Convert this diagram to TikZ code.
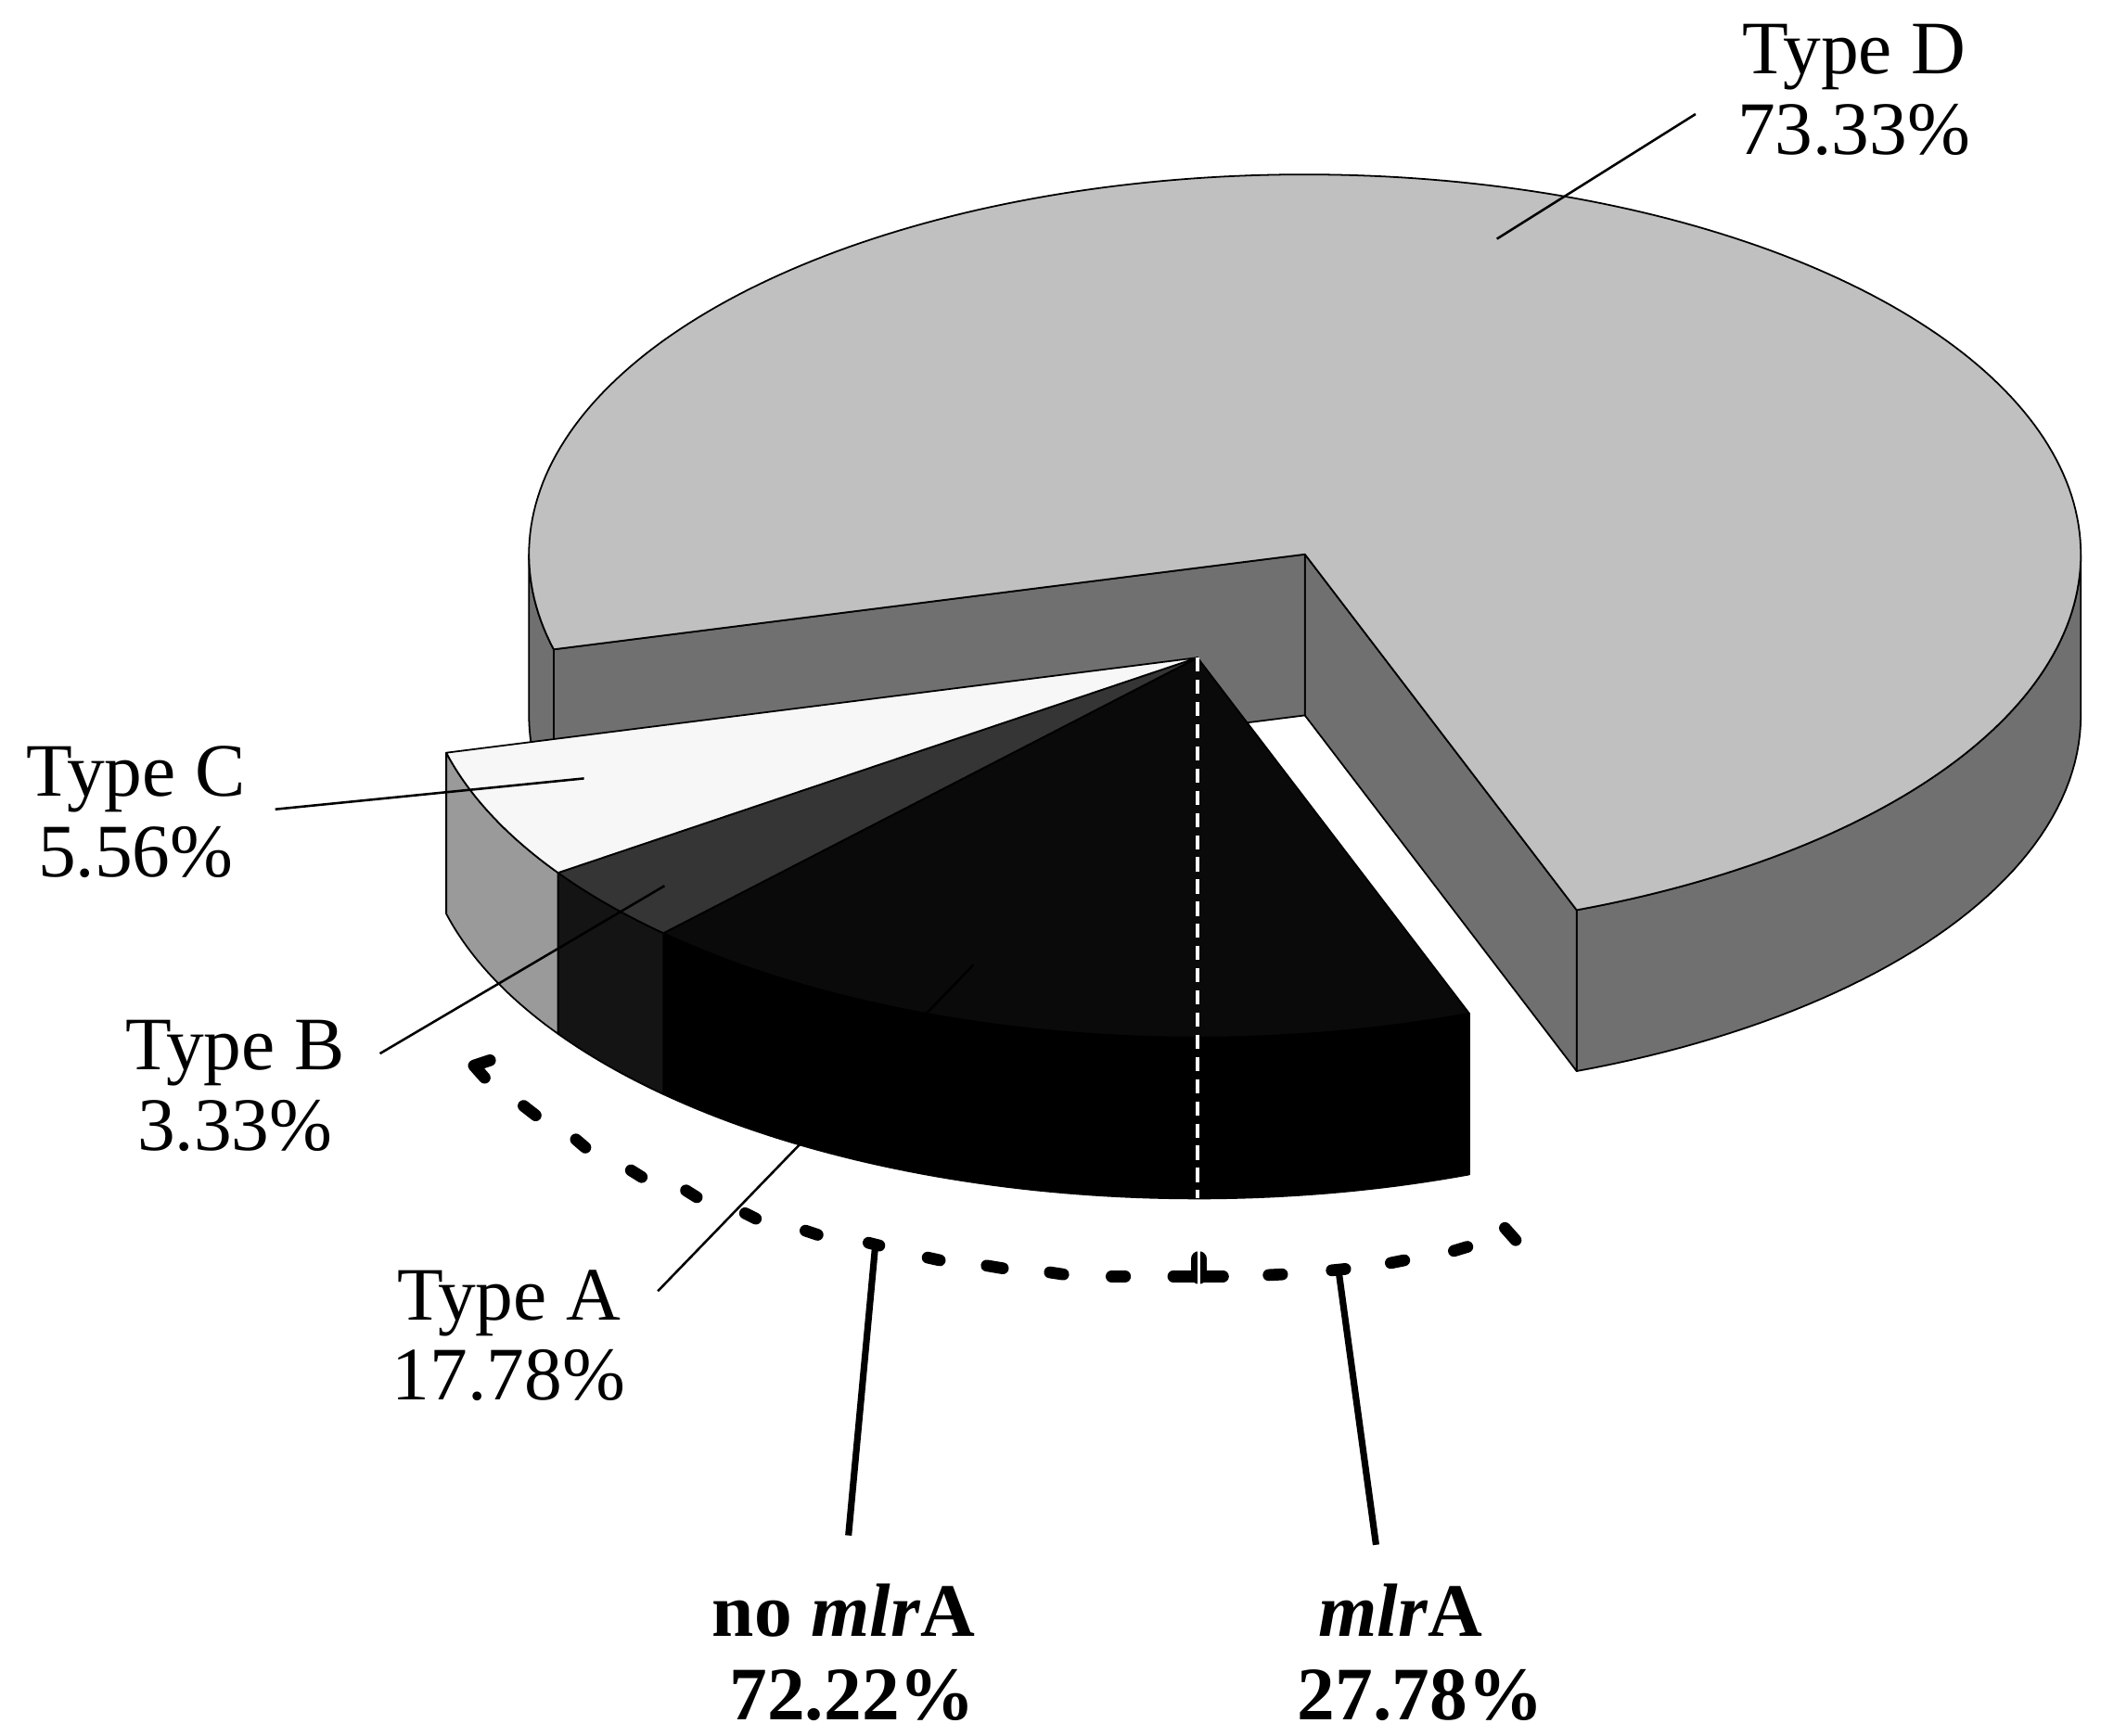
\documentclass[tikz,border=0pt]{standalone}
\usepackage{fontspec}
\setmainfont{Liberation Serif}
\definecolor{topD}{HTML}{C0C0C0}
\definecolor{sideD}{HTML}{707070}
\definecolor{topC}{HTML}{F7F7F7}
\definecolor{sideC}{HTML}{9A9A9A}
\definecolor{topB}{HTML}{353535}
\definecolor{sideB}{HTML}{141414}
\definecolor{topA}{HTML}{0A0A0A}
\definecolor{sideA}{HTML}{000000}
\begin{document}
\begin{tikzpicture}[x=0.01cm,y=-0.01cm,
  edge/.style={draw=black,line width=0.35pt,line join=round},
  lead/.style={draw=black,line width=0.5pt},
  stem/.style={draw=black,line width=1.4pt},
  bdash/.style={draw=black,line width=2.5pt,line cap=round,line join=round},
  lab/.style={font=\fontsize{16}{17}\selectfont,align=center,inner sep=0pt},
  blab/.style={font=\fontsize{16}{17.6}\selectfont\bfseries,inner sep=0pt},
]
\def\Ox{972}\def\Oy{413}\def\Rx{578}\def\Ry{283}\def\H{120}
\def\Ex{892}\def\Ey{490}
\useasboundingbox (0,0) rectangle (1565,1292.8);
\fill[white] (0,0) rectangle (1565,1292.8);

% ---- Type D (main body) ----
\path[edge,fill=sideD] plot[domain=0:69.5,samples=50] ({\Ox+\Rx*cos(\x)},{\Oy+\Ry*sin(\x)})
   -- plot[domain=69.5:0,samples=50] ({\Ox+\Rx*cos(\x)},{\Oy+\H+\Ry*sin(\x)}) -- cycle;
\path[edge,fill=sideD] plot[domain=165.5:180,samples=20] ({\Ox+\Rx*cos(\x)},{\Oy+\Ry*sin(\x)})
   -- plot[domain=180:165.5,samples=20] ({\Ox+\Rx*cos(\x)},{\Oy+\H+\Ry*sin(\x)}) -- cycle;
\path[edge,fill=sideD] (\Ox,\Oy) -- ({\Ox+\Rx*cos(69.5)},{\Oy+\Ry*sin(69.5)}) -- ++(0,\H) -- (\Ox,{\Oy+\H}) -- cycle;
\path[edge,fill=sideD] (\Ox,\Oy) -- ({\Ox+\Rx*cos(165.5)},{\Oy+\Ry*sin(165.5)}) -- ++(0,\H) -- (\Ox,{\Oy+\H}) -- cycle;
\path[edge,fill=topD] (\Ox,\Oy) -- plot[domain=69.5:-194.5,samples=240] ({\Ox+\Rx*cos(\x)},{\Oy+\Ry*sin(\x)}) -- cycle;

% ---- exploded slices: walls ----
\path[edge,fill=sideA] plot[domain=69.5:133.5,samples=60] ({\Ex+\Rx*cos(\x)},{\Ey+\Ry*sin(\x)})
   -- plot[domain=133.5:69.5,samples=60] ({\Ex+\Rx*cos(\x)},{\Ey+\H+\Ry*sin(\x)}) -- cycle;
\path[edge,fill=sideB] plot[domain=133.5:145.5,samples=20] ({\Ex+\Rx*cos(\x)},{\Ey+\Ry*sin(\x)})
   -- plot[domain=145.5:133.5,samples=20] ({\Ex+\Rx*cos(\x)},{\Ey+\H+\Ry*sin(\x)}) -- cycle;
\path[edge,fill=sideC] plot[domain=145.5:165.5,samples=25] ({\Ex+\Rx*cos(\x)},{\Ey+\Ry*sin(\x)})
   -- plot[domain=165.5:145.5,samples=25] ({\Ex+\Rx*cos(\x)},{\Ey+\H+\Ry*sin(\x)}) -- cycle;
% ---- exploded slices: tops ----
\path[edge,fill=topA] (\Ex,\Ey) -- plot[domain=69.5:133.5,samples=60] ({\Ex+\Rx*cos(\x)},{\Ey+\Ry*sin(\x)}) -- cycle;
\path[edge,fill=topB] (\Ex,\Ey) -- plot[domain=133.5:145.5,samples=20] ({\Ex+\Rx*cos(\x)},{\Ey+\Ry*sin(\x)}) -- cycle;
\path[edge,fill=topC] (\Ex,\Ey) -- plot[domain=145.5:165.5,samples=25] ({\Ex+\Rx*cos(\x)},{\Ey+\Ry*sin(\x)}) -- cycle;

% white dashed split line
\draw[white,line width=0.7pt,dash pattern=on 3pt off 1.7pt] (\Ex,\Ey) -- (\Ex,{\Ey+\Ry+\H});

% ---- labels ----
\node[lab] (labD) at (1381,67) {Type D\\73.33\%};
\node[lab] (labC) at (101,605) {Type C\\5.56\%};
\node[lab] (labB) at (175,809) {Type B\\3.33\%};
\node[lab] (labA) at (379,995) {Type A\\17.78\%};
\node[blab,align=right,anchor=east] (labN) at (727,1231) {no \textit{mlr}A\\72.22\%};
\node[blab,align=center] (labM) at (1058,1231) {\textit{mlr}A\kern8.5pt\\27.78\%};

\coordinate (dS) at (1263,85);  \coordinate (dE) at (1115,178);
\coordinate (cS) at (205,603);  \coordinate (cE) at (435,580);
\coordinate (bS) at (283,785);  \coordinate (bE) at (495,660);
\coordinate (aS) at (490,962);  \coordinate (aE) at (725,719);
\draw[lead] (dS) -- (dE);
\draw[lead] (cS) -- (cE);
\draw[lead] (bS) -- (bE);
\draw[lead] (aS) -- (aE);

% ---- bracket (dashed arc) ----
\draw[bdash] (365,790) -- (353,794) -- (361,803);
\draw[bdash] (390,824) -- (399,831);
\draw[bdash] (429,849) -- (436,855);
\draw[bdash] (470,872) -- (478,877);
\draw[bdash] (511,887) -- (519,892);
\draw[bdash] (555,904) -- (563,908);
\draw[bdash] (600,917) -- (609,920);
\draw[bdash] (647,926) -- (655,928);
\draw[bdash] (691,937) -- (700,939);
\draw[bdash] (735,943) -- (747,945);
\draw[bdash] (782,948) -- (792,949.5);
\draw[bdash] (828,951) -- (838,951);
\draw[bdash] (874,951) -- (911,951);
\draw[black,line width=3.3pt,line cap=round] (893,951) -- (893,938);
\draw[white,line width=0.6pt] (893,930) -- (893,958);
\draw[bdash] (945,950) -- (955,949.5);
\draw[bdash] (992,946.5) -- (1002,945.5);
\draw[bdash] (1036,941) -- (1046,939);
\draw[bdash] (1083,932) -- (1093,929);
\draw[bdash] (1121,915) -- (1129,924);

\coordinate (nT) at (652,928); \coordinate (nB) at (632,1144);
\coordinate (mT) at (997,946); \coordinate (mB) at (1025,1151);
\draw[stem] (nT) -- (nB);
\draw[stem] (mT) -- (mB);
\end{tikzpicture}
\end{document}
